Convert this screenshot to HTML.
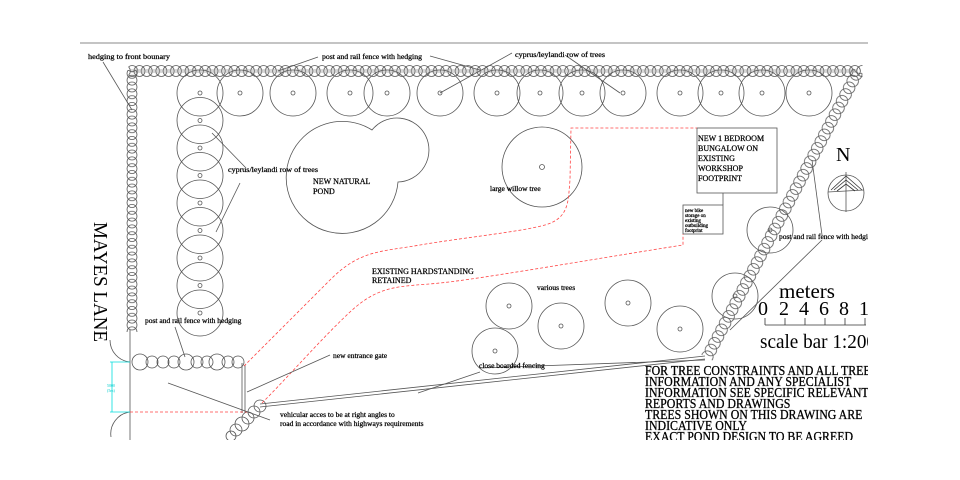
<!DOCTYPE html>
<html><head><meta charset="utf-8"><style>
html,body{margin:0;padding:0;background:#fff;}
svg{display:block;font-family:"Liberation Serif",serif;}
</style></head><body>
<svg width="960" height="480" viewBox="0 0 960 480" xmlns="http://www.w3.org/2000/svg" xmlns:xlink="http://www.w3.org/1999/xlink">
<defs>
<clipPath id="c"><rect x="0" y="0" width="868" height="440"/></clipPath>
<pattern id="ph" patternUnits="userSpaceOnUse" x="128.5" y="64" width="7.3" height="14">
<g fill="none" stroke="#555" stroke-width="0.8"><circle cx="-3.65" cy="7" r="5.5"/><circle cx="3.65" cy="7" r="5.5"/><circle cx="10.95" cy="7" r="5.5"/></g>
</pattern>
<pattern id="pd" patternUnits="userSpaceOnUse" x="0" y="-7" width="7.6" height="14">
<g fill="none" stroke="#555" stroke-width="0.8"><circle cx="-3.8" cy="7" r="5.8"/><circle cx="3.8" cy="7" r="5.8"/><circle cx="11.4" cy="7" r="5.8"/></g>
</pattern>
<pattern id="pv" patternUnits="userSpaceOnUse" x="125" y="70" width="14" height="6.8">
<g fill="none" stroke="#555" stroke-width="0.8"><circle cx="7" cy="-3.4" r="5"/><circle cx="7" cy="3.4" r="5"/><circle cx="7" cy="10.2" r="5"/></g>
</pattern>
<g id="t" fill="none" stroke="#555" stroke-width="0.8"><circle r="23"/><circle r="2"/></g>
</defs>
<g clip-path="url(#c)" fill="none" stroke="#555" stroke-width="0.8">
<line x1="80" y1="43" x2="868" y2="43" stroke="#888" stroke-width="1"/>
<rect x="128.5" y="64" width="734" height="14" fill="url(#ph)" stroke="none"/>
<line x1="130" y1="70" x2="858" y2="70" stroke="#999"/><line x1="130" y1="72" x2="858" y2="72" stroke="#999"/>
<rect x="125" y="70" width="14" height="262" fill="url(#pv)" stroke="none"/>
<g transform="translate(858,71) rotate(117.8)"><rect x="0" y="-7" width="324" height="14" fill="url(#pd)" stroke="none"/></g>
<circle cx="140" cy="362" r="8"/><circle cx="152" cy="362" r="6"/><circle cx="163" cy="362" r="6"/><circle cx="174" cy="362" r="6"/><circle cx="186" cy="362" r="8"/><circle cx="197" cy="362" r="6"/><circle cx="207" cy="362" r="6"/><circle cx="217" cy="362" r="8"/><circle cx="228" cy="362" r="6"/><circle cx="238" cy="362" r="6"/>
<circle cx="260" cy="406" r="6"/><circle cx="254" cy="412" r="6"/><circle cx="248" cy="418" r="6"/><circle cx="242" cy="424" r="7"/><circle cx="236" cy="430" r="6"/><circle cx="231" cy="436" r="5"/>
<use xlink:href="#t" x="200" y="93"/><use xlink:href="#t" x="240" y="93"/><use xlink:href="#t" x="293" y="93"/><use xlink:href="#t" x="350" y="93"/><use xlink:href="#t" x="387" y="93"/><use xlink:href="#t" x="440" y="93"/><use xlink:href="#t" x="497" y="93"/><use xlink:href="#t" x="540" y="93"/><use xlink:href="#t" x="582" y="93"/><use xlink:href="#t" x="623" y="93"/><use xlink:href="#t" x="680" y="93"/><use xlink:href="#t" x="721" y="93"/><use xlink:href="#t" x="762" y="93"/><use xlink:href="#t" x="809" y="93"/>
<use xlink:href="#t" x="200" y="120.5"/><use xlink:href="#t" x="200" y="148"/><use xlink:href="#t" x="200" y="175.5"/><use xlink:href="#t" x="200" y="203"/><use xlink:href="#t" x="200" y="230.5"/><use xlink:href="#t" x="200" y="258"/><use xlink:href="#t" x="200" y="285.5"/><use xlink:href="#t" x="200" y="313"/>
<use xlink:href="#t" x="509" y="306"/><use xlink:href="#t" x="561" y="326"/><use xlink:href="#t" x="628" y="303"/><use xlink:href="#t" x="680" y="329"/><use xlink:href="#t" x="495" y="351"/><use xlink:href="#t" x="770" y="230"/><use xlink:href="#t" x="735" y="296"/>
<path d="M372,130 A32,32 0 1 1 398,182 A56,56 0 1 1 372,130 Z"/>
<circle cx="542" cy="167" r="40"/><circle cx="542" cy="167" r="2.5"/>
<rect x="697" y="128" width="80" height="65"/>
<line x1="723" y1="193" x2="723" y2="205"/>
<rect x="683" y="205" width="40" height="29"/>
<line x1="130" y1="330" x2="130" y2="440"/>
<line x1="242" y1="363" x2="242" y2="413"/><line x1="245" y1="365" x2="245" y2="413"/>
<line x1="260" y1="404" x2="705" y2="356"/><line x1="260" y1="407" x2="705" y2="359"/>
<path d="M110,340 A22,22 0 0 0 130,362"/>
<path d="M130,412 A22,22 0 0 0 111,437"/>
<g stroke="#f44" stroke-dasharray="3,2">
<path d="M244,366 C270,340 300,310 330,280 S380,252 420,245 S520,232 545,225 S568,200 570,180 L571,128 L697,128"/>
<path d="M262,403 C290,375 320,340 350,312 S400,287 440,283 S600,258 683,245 L683,234"/>
<line x1="130" y1="412" x2="250" y2="412"/>
</g>
<g stroke="#0dd"><line x1="112" y1="362" x2="112" y2="412"/><line x1="110" y1="362" x2="130" y2="362"/><line x1="110" y1="412" x2="130" y2="412"/></g>
<line x1="103" y1="62" x2="132" y2="110"/>
<line x1="318" y1="57" x2="278" y2="71"/><line x1="430" y1="56" x2="480" y2="70"/>
<line x1="512" y1="53" x2="440" y2="93"/><line x1="565" y1="55" x2="620" y2="93"/>
<line x1="212" y1="133" x2="246" y2="168"/><line x1="240" y1="183" x2="216" y2="232"/>
<line x1="175" y1="327" x2="185" y2="357"/>
<line x1="330" y1="355" x2="247" y2="392"/>
<line x1="168" y1="383" x2="270" y2="420"/>
<line x1="418" y1="393" x2="480" y2="372"/><line x1="480" y1="368" x2="705" y2="360"/>
<line x1="812" y1="160" x2="822" y2="235"/><line x1="822" y1="240" x2="730" y2="330"/>
<circle cx="846" cy="193" r="18"/>
<line x1="846" y1="172" x2="846" y2="212"/><line x1="828" y1="192" x2="864" y2="190"/>
<path d="M831,190 L846,176 L862,190 M834,190 L846,180 L858,190 M837,191 L846,184 L855,191" stroke="#333"/>
<g stroke="#333"><line x1="765" y1="325" x2="866" y2="325"/>
<line x1="765" y1="318" x2="765" y2="325"/><line x1="785" y1="318" x2="785" y2="325"/><line x1="805" y1="318" x2="805" y2="325"/><line x1="825" y1="318" x2="825" y2="325"/><line x1="845" y1="318" x2="845" y2="325"/><line x1="865" y1="318" x2="865" y2="325"/></g>
</g>
<g clip-path="url(#c)" fill="#000" font-size="7.5" stroke="#000" stroke-width="0.25">
<text x="88" y="59" textLength="82" lengthAdjust="spacingAndGlyphs">hedging to front bounary</text>
<text x="322" y="59" textLength="100" lengthAdjust="spacingAndGlyphs">post and rail fence with hedging</text>
<text x="515" y="57" textLength="90" lengthAdjust="spacingAndGlyphs">cyprus/leylandi row of trees</text>
<text x="228" y="172" textLength="90" lengthAdjust="spacingAndGlyphs">cyprus/leylandi row of trees</text>
<text x="313" y="184" font-size="8">NEW NATURAL</text><text x="313" y="194" font-size="8">POND</text>
<text x="490" y="191">large willow tree</text>
<text x="698" y="141" font-size="8">NEW 1 BEDROOM</text><text x="698" y="151" font-size="8">BUNGALOW ON</text><text x="698" y="161" font-size="8">EXISTING</text><text x="698" y="171" font-size="8">WORKSHOP</text><text x="698" y="181" font-size="8">FOOTPRINT</text>
<text x="685" y="212" font-size="5">new bike</text><text x="685" y="217" font-size="5">storage on</text><text x="685" y="222" font-size="5">existing</text><text x="685" y="227" font-size="5">outbuilding</text><text x="685" y="232" font-size="5">footprint</text>
<text x="779" y="239">post and rail fence with hedging</text>
<text x="372" y="274" font-size="8">EXISTING HARDSTANDING</text><text x="372" y="283" font-size="8">RETAINED</text>
<text x="537" y="290">various trees</text>
<text x="145" y="323">post and rail fence with hedging</text>
<text x="333" y="358">new entrance gate</text>
<text x="479" y="368">close boarded fencing</text>
<text x="280" y="417">vehicular acces to be at right angles to</text>
<text x="280" y="426">road in accordance with highways requirements</text>
<text x="107" y="387" font-size="4" fill="#0cc" stroke="none">5000</text><text x="107" y="392" font-size="4" fill="#0cc" stroke="none">(5m)</text>
</g>
<g clip-path="url(#c)" fill="#000">
<text x="836" y="161" font-size="20">N</text>
<text x="779" y="298" font-size="21">meters</text>
<text y="315" font-size="20"><tspan x="758">0</tspan><tspan x="779">2</tspan><tspan x="799">4</tspan><tspan x="819">6</tspan><tspan x="839">8</tspan><tspan x="859">10</tspan></text>
<text x="760" y="348" font-size="20" textLength="116" lengthAdjust="spacingAndGlyphs">scale bar 1:200</text>
<g font-size="13.5" stroke="#000" stroke-width="0.3" transform="translate(645,0) scale(0.88,1)"><text x="0" y="375">FOR TREE CONSTRAINTS AND ALL TREE</text><text x="0" y="386">INFORMATION AND ANY SPECIALIST</text><text x="0" y="397">INFORMATION SEE SPECIFIC RELEVANT</text><text x="0" y="408">REPORTS AND DRAWINGS</text><text x="0" y="419">TREES SHOWN ON THIS DRAWING ARE</text><text x="0" y="430">INDICATIVE ONLY</text><text x="0" y="441">EXACT POND DESIGN TO BE AGREED</text></g>
<text transform="translate(94,222) rotate(90)" font-size="20" textLength="120" lengthAdjust="spacingAndGlyphs">MAYES LANE</text>
</g>
</svg>
</body></html>
